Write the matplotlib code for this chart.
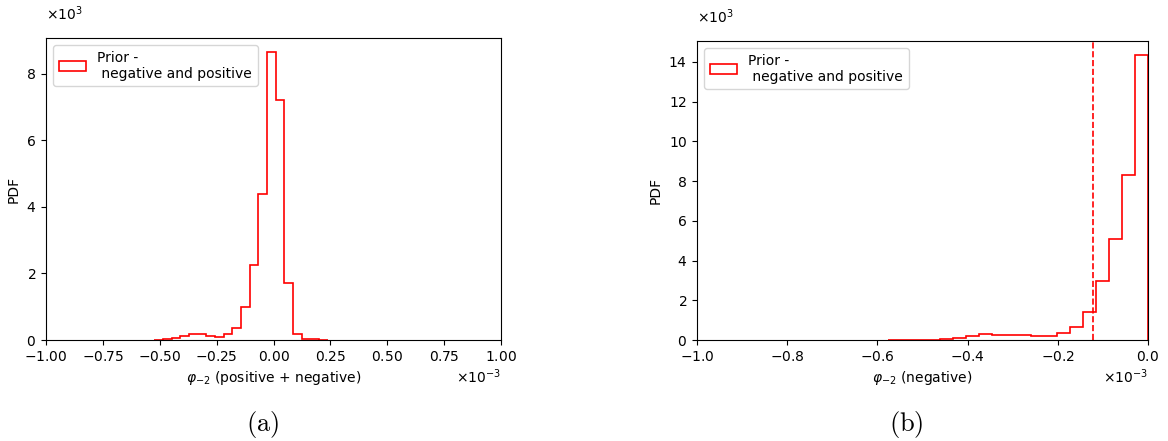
import numpy as np
import matplotlib
matplotlib.use("Agg")
import matplotlib.pyplot as plt

# panel (a): positive + negative prior, bin edges and PDF values (x in 1e-3, y in 1e3)
edges_a = np.linspace(-0.524, 0.238, 21)
pdf_a = [0.005, 0.02, 0.05, 0.13, 0.17, 0.17, 0.13, 0.10, 0.18, 0.35,
         1.00, 2.24, 4.39, 8.64, 7.22, 1.72, 0.17, 0.03, 0.02, 0.01]

# panel (b): negative only
edges_b = np.linspace(-0.576, 0.0, 21)
pdf_b = [0.005, 0.01, 0.01, 0.02, 0.03, 0.08, 0.22, 0.28, 0.25, 0.23,
         0.23, 0.20, 0.20, 0.37, 0.65, 1.41, 2.99, 5.09, 8.31, 14.33]
vline_b = -0.123

label = "Prior -\n negative and positive"

fig = plt.figure(figsize=(11.68, 4.41), dpi=100)
ax1 = fig.add_axes([46/1168, 1-340/441, 455/1168, 302/441])
ax2 = fig.add_axes([697/1168, 1-340/441, 451/1168, 299/441])

def draw(ax, edges, pdf, xlabel, xlim):
    e = np.array(edges) * 1e-3
    w = np.array(pdf) * 1e3
    ax.hist(e[:-1], bins=e, weights=w, histtype="step", color="red", lw=1.2, label=label)
    ax.set_xlim(xlim[0]*1e-3, xlim[1]*1e-3)
    ax.set_ylim(0, max(w) * 1.05)
    ax.ticklabel_format(axis="y", style="sci", scilimits=(3, 3), useMathText=True)
    ax.ticklabel_format(axis="x", style="sci", scilimits=(-3, -3), useMathText=True)
    ax.yaxis.get_offset_text().set_visible(False)
    ax.annotate(r"$\times\mathdefault{10^{3}}$", xy=(0, 1), xycoords="axes fraction",
                xytext=(0, 11), textcoords="offset points", ha="left", va="bottom", fontsize=10)
    ax.set_xlabel(xlabel)
    ax.set_ylabel("PDF")
    ax.legend(loc="upper left")

draw(ax1, edges_a, pdf_a, r"$\varphi_{-2}$ (positive + negative)", (-1, 1))
draw(ax2, edges_b, pdf_b, r"$\varphi_{-2}$ (negative)", (-1, 0))
ax2.axvline(vline_b*1e-3, color="red", ls="--", lw=1.2)

fig.text(263/1168, 1-425/441, r"$\mathrm{(a)}$", ha="center", va="center", fontsize=19, math_fontfamily="cm")
fig.text(906/1168, 1-425/441, r"$\mathrm{(b)}$", ha="center", va="center", fontsize=19, math_fontfamily="cm")

fig.savefig("out.png", dpi=100)
